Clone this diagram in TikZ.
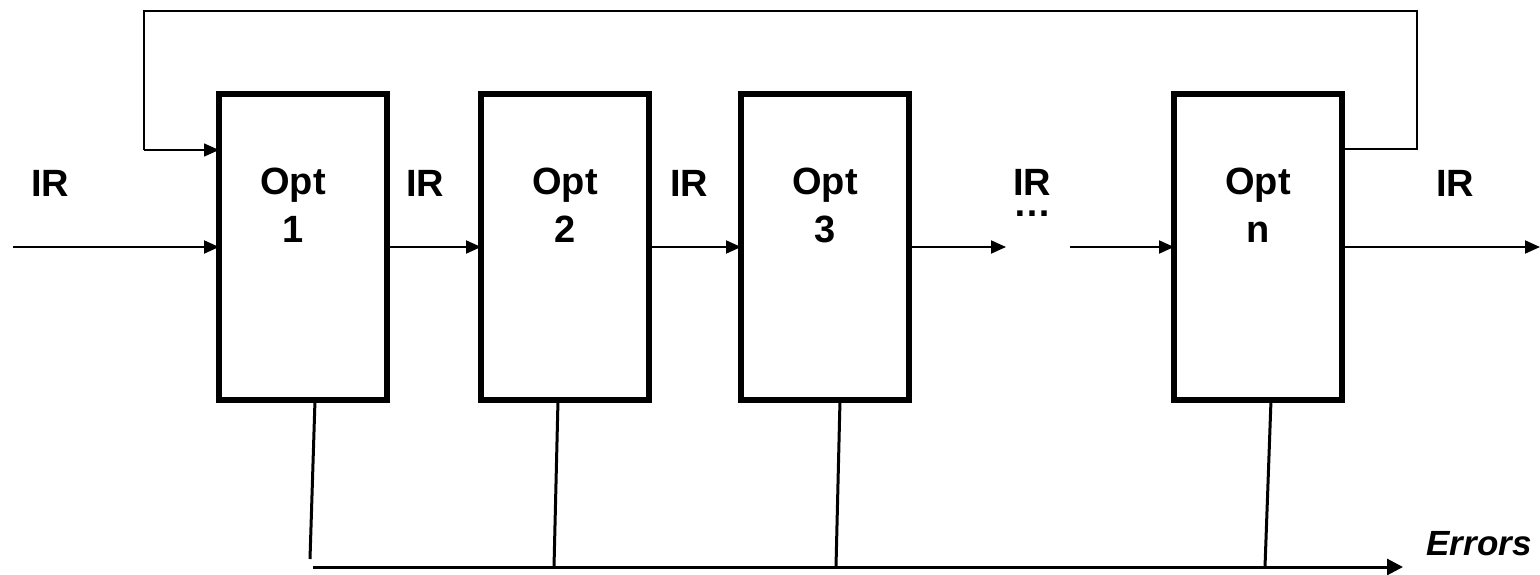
\documentclass[tikz,border=0pt]{standalone}
\usepackage{fontspec}
\setmainfont{Liberation Sans}
\usetikzlibrary{arrows.meta,positioning}

\begin{document}
\begin{tikzpicture}[x=1pt, y=-1pt,
  optbox/.style={draw, rectangle, line width=5.5pt, minimum width=168pt, minimum height=306pt, inner sep=0pt, outer sep=0pt},
  optlab/.style={font=\fontsize{38}{48}\selectfont\bfseries, align=center, inner sep=0pt},
  irlab/.style={font=\fontsize{38}{46}\selectfont\bfseries, inner sep=0pt},
  flow/.style={-{Triangle[length=15pt,width=13pt]}, line width=2pt},
  fb/.style={line width=1.5pt},
  drop/.style={line width=3pt}]
\useasboundingbox (0,0) rectangle (1540,575);

% Optimizer boxes
\node[optbox] (o1) at (303,247) {};
\node[optbox] (o2) at (565,247) {};
\node[optbox] (o3) at (825,247) {};
\node[optbox] (on) at (1258,247) {};

\node[optlab] (t1) at (293,205.5) {Opt\\1};
\node[optlab] (t2) at (565,205.5) {Opt\\2};
\node[optlab] (t3) at (825,205.5) {Opt\\3};
\node[optlab] (tn) at (1258,205.5) {Opt\\n};

% IR labels
\node[irlab] (ir0) at (50,183.5) {IR};
\node[irlab] (ir1) at (425,183.5) {IR};
\node[irlab] (ir2) at (689,183.5) {IR};
\node[irlab, font=\fontsize{38}{21}\selectfont\bfseries, align=center, anchor=north] (ir3) at (1032,169.5) {IR\\…};
\node[irlab] (ir4) at (1455,183.5) {IR};

% Main chain
\coordinate (in) at (13,247);
\coordinate (gapL) at (1006,247);
\coordinate (gapR) at (1070,247);
\coordinate (out) at (1540,247);
\draw[flow] (in) -- (o1.west);
\draw[flow] (o1.east) -- (o2.west);
\draw[flow] (o2.east) -- (o3.west);
\draw[flow] (o3.east) -- (gapL);
\draw[flow] (gapR) -- (on.west);
\draw[flow] (on.east) -- (out);

% Feedback loop
\coordinate (fbR) at (1417,149);
\coordinate (fbTR) at (1417,11);
\coordinate (fbTL) at (144,11);
\coordinate (fbL) at (144,150);
\draw[fb] (on.east |- fbR) -- (fbR) -- (fbTR) -- (fbTL) -- (fbL);
\draw[flow, line width=1.5pt] (fbL) -- (o1.west |- fbL);

% Error bus
\coordinate (busL) at (313,567);
\coordinate (busR) at (1403,567);
\draw[drop] ([xshift=12pt]o1.south) -- (310,559);
\draw[drop] ([xshift=-7pt]o2.south) -- (554,567);
\draw[drop] ([xshift=15pt]o3.south) -- (836,567);
\draw[drop] ([xshift=13pt]on.south) -- (1265,567);
\draw[drop, -{Triangle[length=16pt,width=16pt]}] (busL) -- (busR);
\node[font=\fontsize{35}{40}\selectfont\bfseries\itshape, inner sep=0pt] (err) at (1479,544) {Errors};
\end{tikzpicture}
\end{document}
